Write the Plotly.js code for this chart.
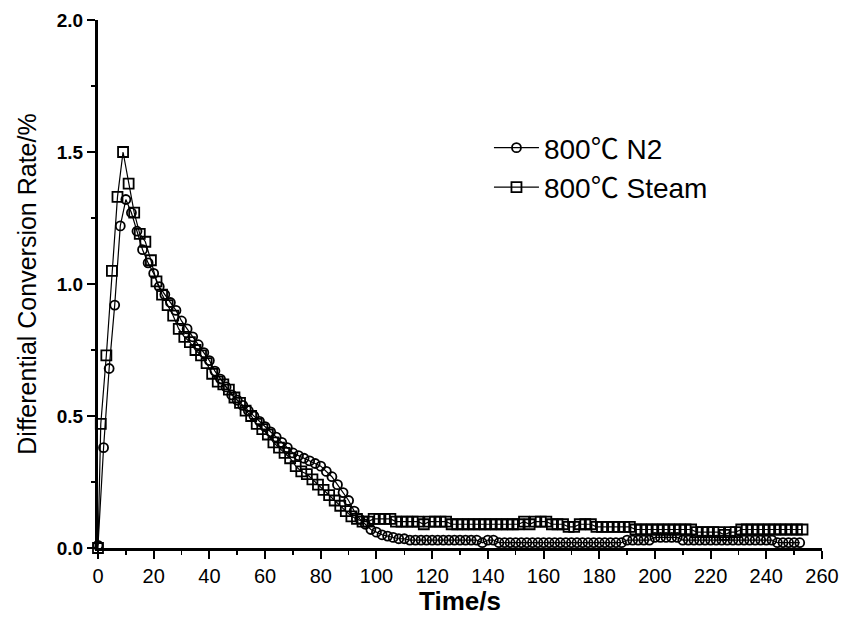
<!DOCTYPE html>
<html>
<head>
<meta charset="utf-8">
<script src="https://cdn.plot.ly/plotly-3.0.1.min.js"></script>
<style>html,body{margin:0;padding:0;background:#fff;}#chart{width:841px;height:627px;}</style>
</head>
<body>
<div id="chart"></div>
<script>
// ---- Data ----
const timeN2 = [0,2,4,6,8,10,12,14,16,18,20,22,24,26,28,30,32,34,36,38,40,42,44,46,48,50,52,54,56,58,60,62,64,66,68,70,72,74,76,78,80,82,84,86,88,90,92,94,96,98,100,102,104,106,108,110,
  112,114,116,118,120,122,124,126,128,130,132,134,136,138,140,142,144,146,148,150,152,154,156,158,160,162,164,166,168,170,172,174,176,178,180,182,184,186,188,190,192,194,196,198,200,202,204,206,208,210,212,214,216,218,220,222,224,226,228,230,232,234,236,238,240,242,244,246,248,250,252];
const rateN2 = [0.01,0.38,0.68,0.92,1.22,1.32,1.27,1.20,1.13,1.08,1.04,0.99,0.96,0.93,0.90,0.86,0.83,0.80,0.77,0.74,0.71,0.67,0.64,0.61,0.58,0.56,0.54,0.52,0.50,0.48,0.46,0.44,0.42,0.40,0.38,0.36,0.35,0.34,0.33,0.32,0.31,0.29,0.27,0.24,0.21,0.18,0.14,0.11,0.09,0.07,0.06,0.05,0.045,0.04,0.035,0.035,
  0.03,0.03,0.03,0.03,0.03,0.03,0.03,0.03,0.03,0.03,
  0.03,0.03,0.03,0.02,0.03,0.03,0.02,0.02,0.02,0.02,
  0.02,0.02,0.02,0.02,0.02,0.02,0.02,0.02,0.02,0.02,
  0.02,0.02,0.02,0.02,0.02,0.02,0.02,0.02,0.02,0.03,
  0.03,0.03,0.03,0.03,0.04,0.04,0.04,0.04,0.04,0.03,
  0.03,0.03,0.03,0.03,0.03,0.03,0.03,0.03,0.03,0.03,
  0.03,0.03,0.03,0.03,0.03,0.03,0.02,0.02,0.02,0.02,0.02];

const timeSteam = [0,1,3,5,7,9,11,13,15,17,19,21,23,25,27,29,31,33,35,37,39,41,43,45,47,49,51,53,55,57,59,61,63,65,67,69,71,73,75,77,79,81,83,85,87,89,91,93,95,97,99,101,103,105,107,109,
  111,113,115,117,119,121,123,125,127,129,131,133,135,137,139,141,143,145,147,149,151,153,155,157,159,161,163,165,167,169,171,173,175,177,179,181,183,185,187,189,191,193,195,197,199,201,203,205,207,209,211,213,215,217,219,221,223,225,227,229,231,233,235,237,239,241,243,245,247,249,251,253];
const rateSteam = [0.0,0.47,0.73,1.05,1.33,1.50,1.38,1.27,1.19,
  1.16,1.09,1.01,0.96,0.92,0.88,0.83,0.80,0.78,0.75,0.73,0.70,0.66,0.63,0.62,0.60,0.57,0.55,0.52,0.50,0.47,0.45,0.43,0.40,0.38,0.36,0.34,0.31,0.29,0.28,0.26,0.24,0.22,0.20,0.18,0.16,0.14,0.12,0.11,0.10,0.10,0.11,0.11,0.11,0.11,0.10,0.10,
  0.10,0.10,0.10,0.09,0.10,0.10,
  0.10,0.10,0.09,0.09,0.09,0.09,0.09,0.09,0.09,
  0.09,0.09,0.09,0.09,0.09,0.09,0.10,0.09,0.10,0.10,0.10,
  0.09,0.09,0.09,0.08,0.08,0.09,0.09,0.09,0.08,
  0.08,0.08,0.08,0.08,0.08,0.08,0.07,0.07,0.07,0.07,
  0.07,0.07,0.07,0.07,0.07,0.07,0.07,0.06,0.06,0.06,
  0.06,0.06,0.05,0.06,0.06,0.07,0.07,0.07,
  0.07,0.07,0.07,0.07,0.07,0.07,0.07,0.07,0.07];

const seriesNames = ['800℃ N2', '800℃ Steam'];
const xTitle = 'Time/s';
const yTitle = 'Differential Conversion Rate/%';
const xTicks = [0,20,40,60,80,100,120,140,160,180,200,220,240,260];
const yTicks = [0.0,0.5,1.0,1.5,2.0];
const yTickText = ['0.0','0.5','1.0','1.5','2.0'];

const fontFam = 'Liberation Sans, Arial, Noto Sans CJK SC, sans-serif';

const traces = [
  {x: timeN2, y: rateN2, name: seriesNames[0], type: 'scatter', mode: 'lines+markers',
   line: {color: '#000', width: 1.2},
   marker: {symbol: 'circle-open', size: 9, color: '#000', line: {width: 1.8, color: '#000'}},
   cliponaxis: false},
  {x: timeSteam, y: rateSteam, name: seriesNames[1], type: 'scatter', mode: 'lines+markers',
   line: {color: '#000', width: 1.2},
   marker: {symbol: 'square-open', size: 10, color: '#000', line: {width: 1.8, color: '#000'}},
   cliponaxis: false}
];

const layout = {
  width: 841, height: 627,
  margin: {l: 98, r: 19, t: 20, b: 79},
  paper_bgcolor: '#fff', plot_bgcolor: '#fff',
  showlegend: true,
  legend: {x: 0.54, y: 0.805, xanchor: 'left', yanchor: 'top',
    font: {family: fontFam, size: 28, color: '#000'}, bgcolor: 'rgba(0,0,0,0)',
    itemwidth: 45, tracegroupgap: 0},
  xaxis: {
    range: [0, 260], tickvals: xTicks, ticktext: xTicks.map(String),
    showgrid: false, zeroline: false, showline: true, linecolor: '#000', linewidth: 3,
    ticks: 'outside', ticklen: 8, tickwidth: 2, tickcolor: '#000',
    minor: {dtick: 10, ticks: 'outside', ticklen: 4, tickwidth: 1.5, tickcolor: '#000'},
    tickfont: {family: fontFam, size: 20, color: '#000'}
  },
  yaxis: {
    range: [0, 2.0], tickvals: yTicks, ticktext: yTickText,
    showgrid: false, zeroline: false, showline: true, linecolor: '#000', linewidth: 3,
    ticks: 'outside', ticklen: 8, tickwidth: 2, tickcolor: '#000',
    minor: {dtick: 0.25, ticks: 'outside', ticklen: 4, tickwidth: 1.5, tickcolor: '#000'},
    tickfont: {family: fontFam, size: 19, color: '#000', weight: 'bold'},
    title: {text: yTitle, font: {family: fontFam, size: 25, color: '#000'}, standoff: 14}
  },
  annotations: [
    {text: xTitle, xref: 'paper', yref: 'paper', x: 0.5, y: -0.1, xanchor: 'center', yanchor: 'middle',
     showarrow: false, font: {family: fontFam, size: 26, color: '#000', weight: 'bold'}}
  ]
};

Plotly.newPlot('chart', traces, layout, {displayModeBar: false, staticPlot: true});
</script>
</body>
</html>
